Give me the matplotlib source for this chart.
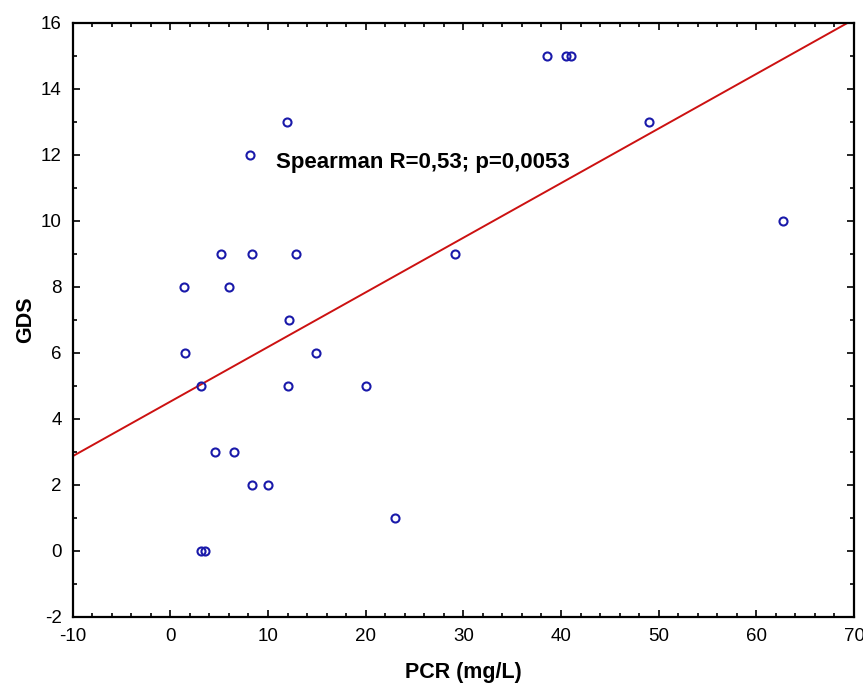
import numpy as np
import matplotlib
matplotlib.use("Agg")
import matplotlib.pyplot as plt
from matplotlib.ticker import MultipleLocator

plt.rcParams['font.family'] = ['Liberation Sans', 'DejaVu Sans']
plt.rcParams['axes.unicode_minus'] = False

# PCR (mg/L) vs GDS
pcr = [1.4, 1.5, 3.1, 4.6, 6.5, 3.1, 3.5, 5.2, 6.0, 8.2, 8.4, 8.4, 10.0,
       11.9, 12.2, 12.0, 12.9, 14.9, 20.0, 23.0, 29.1, 38.6, 40.5, 41.0,
       49.0, 62.7]
gds = [8, 6, 5, 3, 3, 0, 0, 9, 8, 12, 9, 2, 2,
       13, 7, 5, 9, 6, 5, 1, 9, 15, 15, 15,
       13, 10]
annot = "Spearman R=0,53; p=0,0053"

fig = plt.figure(figsize=(8.63, 6.86), dpi=100)
ax = fig.add_axes([0.0842, 0.1006, 0.9054, 0.8664])

# ligne de régression
slope, icpt = np.polyfit(pcr, gds, 1)
xl = np.array([-10, 70])
ax.plot(xl, icpt + slope * xl, color='#cc1111', lw=1.4, zorder=2)

ax.plot(pcr, gds, 'o', mfc='none', mec='#1a1aaa', mew=1.5, ms=5.8,
        ls='none', zorder=3)

ax.text(10.8, 11.6, annot, fontsize=16, fontweight='bold', va='baseline',
        ha='left')

ax.set_xlim(-10, 70)
ax.set_ylim(-2, 16)
ax.xaxis.set_major_locator(MultipleLocator(10))
ax.xaxis.set_minor_locator(MultipleLocator(2))
ax.yaxis.set_major_locator(MultipleLocator(2))
ax.yaxis.set_minor_locator(MultipleLocator(1))
ax.tick_params(which='both', direction='in', top=True, right=True,
               labelsize=13.5, width=1.2)
ax.tick_params(which='major', length=5, pad=8)
ax.tick_params(which='minor', length=3)
for s in ax.spines.values():
    s.set_linewidth(1.6)

ax.set_xlabel("PCR (mg/L)", fontsize=15.5, fontweight='bold', labelpad=12)
ax.set_ylabel("GDS", fontsize=15.5, fontweight='bold', labelpad=3)

plt.savefig("out.png", dpi=100)
